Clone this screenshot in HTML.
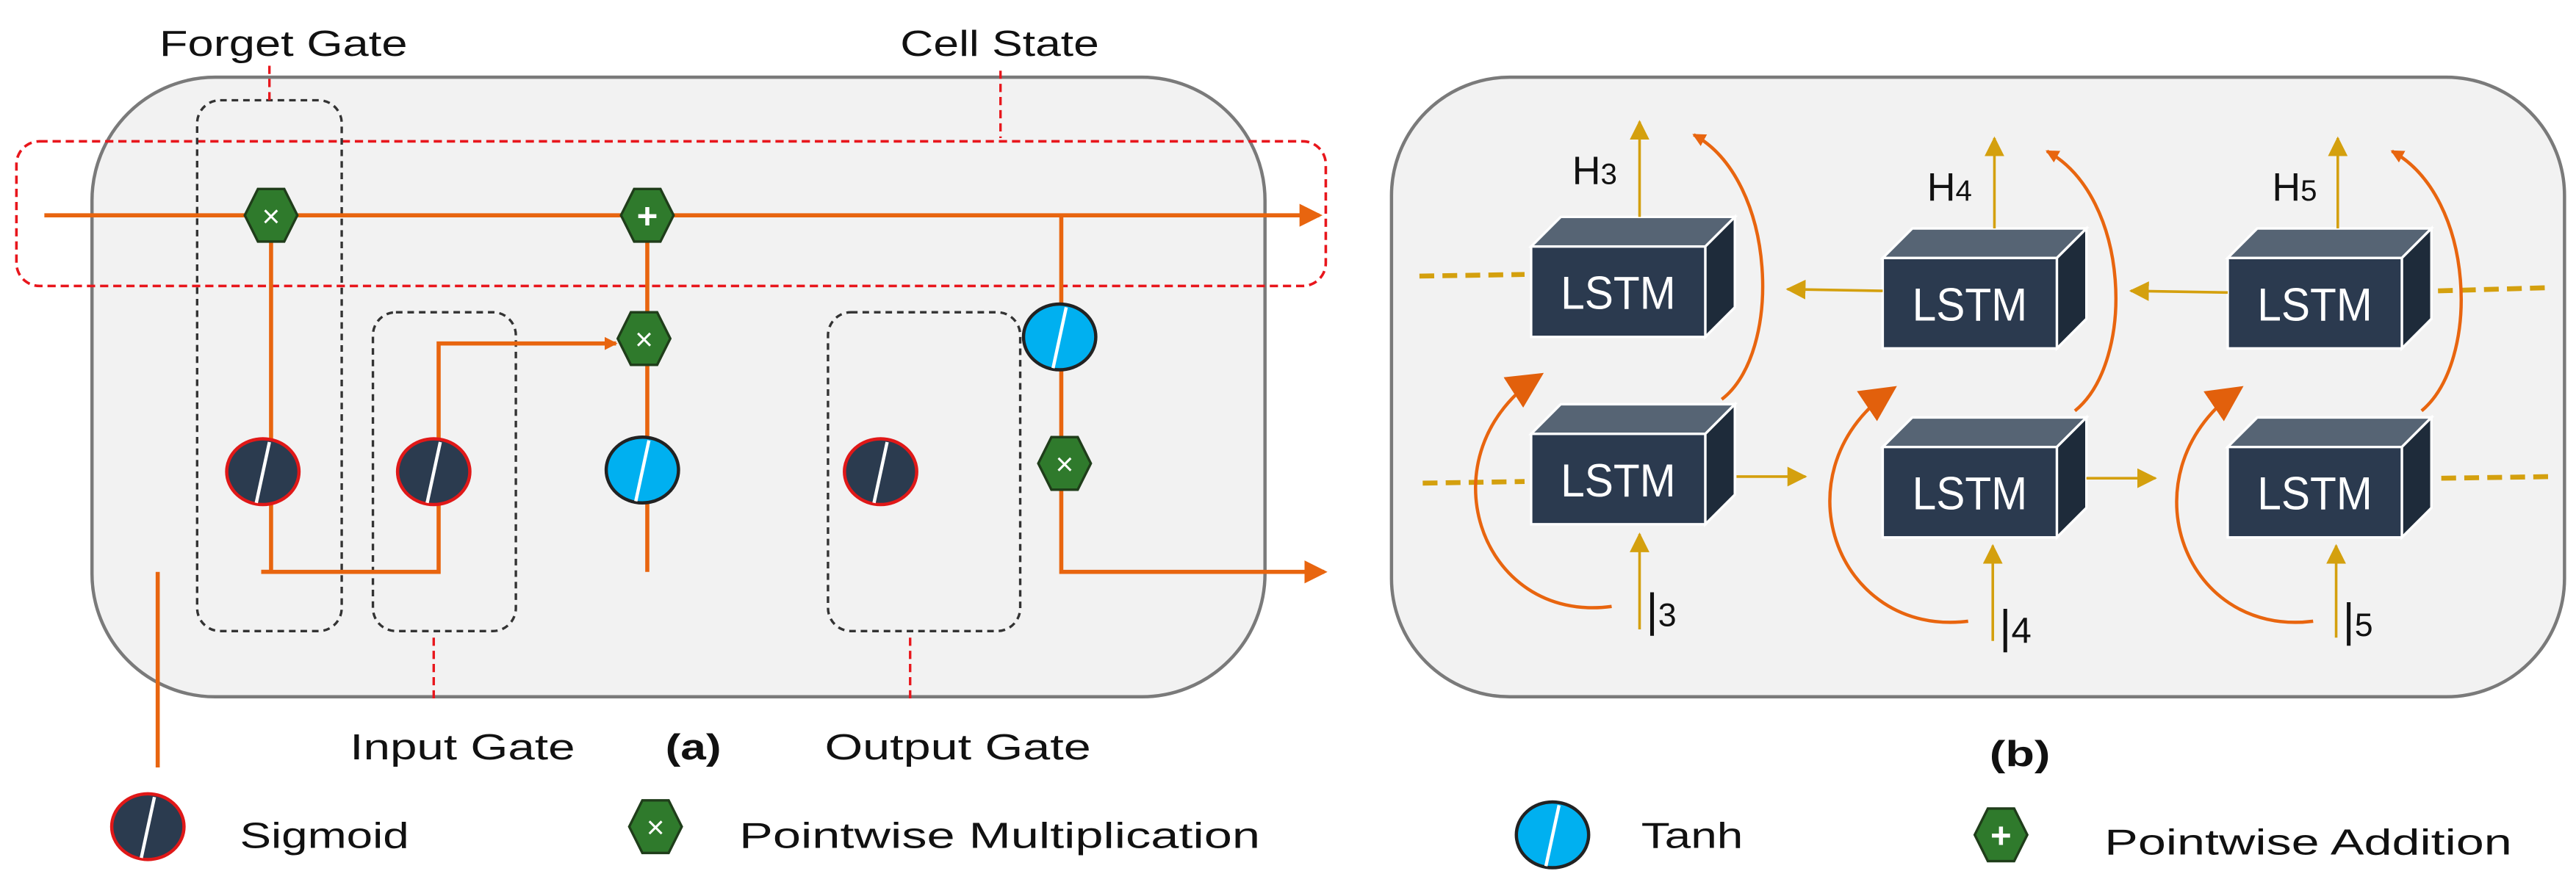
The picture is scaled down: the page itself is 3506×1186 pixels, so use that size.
<!DOCTYPE html>
<html><head><meta charset="utf-8"><style>html,body{margin:0;padding:0;background:#fff}svg{display:block}</style></head>
<body>
<svg width="3506" height="1186" viewBox="0 0 1568 530" preserveAspectRatio="none" xmlns="http://www.w3.org/2000/svg" font-family="'Liberation Sans', sans-serif">
<defs>
<marker id="ao" markerWidth="8" markerHeight="8" refX="7" refY="4" orient="auto" markerUnits="userSpaceOnUse"><path d="M0,0 L8,4 L0,8 Z" fill="#e8650f"/></marker>
<marker id="ao2" markerWidth="14" markerHeight="14" refX="12" refY="7" orient="auto" markerUnits="userSpaceOnUse"><path d="M0,0 L14,7 L0,14 Z" fill="#e8650f"/></marker>
<marker id="aob" markerWidth="22" markerHeight="22" refX="20" refY="11" orient="auto" markerUnits="userSpaceOnUse"><path d="M0,0 L22,11 L0,22 Z" fill="#e2600c"/></marker>
<marker id="ag" markerWidth="12" markerHeight="12" refX="11" refY="6" orient="auto" markerUnits="userSpaceOnUse"><path d="M0,0 L12,6 L0,12 Z" fill="#d4a00e"/></marker>
<g id="hex"><polygon points="-16,0 -8,-16 8,-16 16,0 8,16 -8,16" fill="#2f7a2c" stroke="#1f3d1a" stroke-width="1.5"/></g>
<g id="sig"><ellipse cx="0" cy="0" rx="22" ry="20" fill="#2b3b4f" stroke="#e01818" stroke-width="2"/><line x1="4" y1="-18" x2="-4" y2="19" stroke="#fff" stroke-width="2"/></g>
<g id="tanh"><ellipse cx="0" cy="0" rx="22" ry="20" fill="#00b0f0" stroke="#222" stroke-width="2"/><line x1="4" y1="-18" x2="-4" y2="19" stroke="#fff" stroke-width="2"/></g>
<g id="lstm">
<polygon points="0,0 18,-18 124,-18 106,0" fill="#566474" stroke="#fff" stroke-width="1.5"/>
<polygon points="106,0 124,-18 124,37 106,55" fill="#1e2b3a" stroke="#fff" stroke-width="1.5"/>
<rect x="0" y="0" width="106" height="55" fill="#2b3a4f" stroke="#fff" stroke-width="1.5"/>
<text x="18" y="38" font-size="28" fill="#fff" textLength="70" lengthAdjust="spacingAndGlyphs">LSTM</text>
</g>
</defs>

<!-- LEFT PANEL -->
<rect x="56" y="47" width="714" height="377" rx="75" fill="#f2f2f2" stroke="#7a7a7a" stroke-width="2"/>
<rect x="10" y="86" width="797" height="88" rx="14" fill="none" stroke="#e8161c" stroke-width="1.6" stroke-dasharray="5,3"/>
<rect x="120" y="61" width="88" height="323" rx="14" fill="none" stroke="#333" stroke-width="1.5" stroke-dasharray="4,3"/>
<rect x="227" y="190" width="87" height="194" rx="14" fill="none" stroke="#333" stroke-width="1.5" stroke-dasharray="4,3"/>
<rect x="504" y="190" width="117" height="194" rx="14" fill="none" stroke="#333" stroke-width="1.5" stroke-dasharray="4,3"/>
<g stroke="#e8161c" stroke-width="1.5" stroke-dasharray="5,3">
<line x1="164" y1="40" x2="164" y2="63"/><line x1="609" y1="43" x2="609" y2="84"/>
<line x1="264" y1="388" x2="264" y2="428"/><line x1="554" y1="388" x2="554" y2="428"/>
</g>
<g stroke="#e8650f" stroke-width="2.5" fill="none">
<line x1="27" y1="131" x2="803" y2="131" marker-end="url(#ao2)"/>
<polyline points="165,131 165,348 159,348"/>
<polyline points="159,348 267,348 267,209 375,209" marker-end="url(#ao)"/>
<line x1="394" y1="131" x2="394" y2="348"/>
<polyline points="646,131 646,348 806,348" marker-end="url(#ao2)"/>
<line x1="96" y1="348" x2="96" y2="467"/>
</g>
<use href="#hex" x="165" y="131"/><text x="165" y="138" font-size="19" fill="#fff" text-anchor="middle">×</text>
<use href="#hex" x="394" y="131"/><text x="394" y="139" font-size="22" font-weight="bold" fill="#fff" text-anchor="middle">+</text>
<use href="#hex" x="392" y="206"/><text x="392" y="213" font-size="19" fill="#fff" text-anchor="middle">×</text>
<use href="#hex" x="648" y="282"/><text x="648" y="289" font-size="19" fill="#fff" text-anchor="middle">×</text>
<use href="#sig" x="160" y="287"/><use href="#sig" x="264" y="287"/><use href="#sig" x="536" y="287"/>
<use href="#tanh" x="391" y="286"/><use href="#tanh" x="645" y="205"/>
<g font-size="22" fill="#111">
<text x="97" y="34" textLength="151" lengthAdjust="spacingAndGlyphs">Forget Gate</text>
<text x="548" y="34" textLength="121" lengthAdjust="spacingAndGlyphs">Cell State</text>
<text x="213" y="462" textLength="137" lengthAdjust="spacingAndGlyphs">Input Gate</text>
<text x="405" y="462" font-weight="bold" textLength="34" lengthAdjust="spacingAndGlyphs">(a)</text>
<text x="502" y="462" textLength="162" lengthAdjust="spacingAndGlyphs">Output Gate</text>
<text x="146" y="516" textLength="103" lengthAdjust="spacingAndGlyphs">Sigmoid</text>
<text x="450" y="516" textLength="317" lengthAdjust="spacingAndGlyphs">Pointwise Multiplication</text>
<text x="999" y="516" textLength="62" lengthAdjust="spacingAndGlyphs">Tanh</text>
<text x="1281" y="520" textLength="248" lengthAdjust="spacingAndGlyphs">Pointwise Addition</text>
<text x="1211" y="466" font-weight="bold" textLength="37" lengthAdjust="spacingAndGlyphs">(b)</text>
</g>
<use href="#sig" x="90" y="503"/>
<use href="#hex" x="399" y="503"/><text x="399" y="510" font-size="19" fill="#fff" text-anchor="middle">×</text>
<use href="#tanh" x="945" y="508"/>
<use href="#hex" x="1218" y="508"/><text x="1218" y="516" font-size="22" font-weight="bold" fill="#fff" text-anchor="middle">+</text>

<!-- RIGHT PANEL -->
<rect x="847" y="47" width="714" height="377" rx="72" fill="#f2f2f2" stroke="#7a7a7a" stroke-width="2"/>
<g stroke="#d4a00e" stroke-width="3" stroke-dasharray="9,5">
<line x1="864" y1="168" x2="928" y2="167"/><line x1="866" y1="294" x2="928" y2="293"/>
<line x1="1484" y1="177" x2="1553" y2="175"/><line x1="1486" y1="291" x2="1554" y2="290"/>
</g>
<g stroke="#e8650f" stroke-width="2" fill="none">
<path d="M1048,243 C1085,215 1082,110 1031,82" marker-end="url(#ao)"/>
<path d="M1263,250 C1300,220 1297,120 1246,92" marker-end="url(#ao)"/>
<path d="M1474,250 C1510,220 1507,120 1456,92" marker-end="url(#ao)"/>
<path d="M981,369 C900,380 865,275 938,228" marker-end="url(#aob)"/>
<path d="M1198,378 C1117,388 1080,285 1153,236" marker-end="url(#aob)"/>
<path d="M1408,378 C1327,388 1292,285 1364,236" marker-end="url(#aob)"/>
</g>
<use href="#lstm" x="932" y="150"/>
<use href="#lstm" x="1146" y="157"/>
<use href="#lstm" x="1356" y="157"/>
<use href="#lstm" x="932" y="264"/>
<use href="#lstm" x="1146" y="272"/>
<use href="#lstm" x="1356" y="272"/>
<g stroke="#d4a00e" stroke-width="1.6" fill="none">
<line x1="998" y1="132" x2="998" y2="74" marker-end="url(#ag)"/>
<line x1="1214" y1="139" x2="1214" y2="84" marker-end="url(#ag)"/>
<line x1="1423" y1="139" x2="1423" y2="84" marker-end="url(#ag)"/>
<line x1="1146" y1="177" x2="1088" y2="176" marker-end="url(#ag)"/>
<line x1="1356" y1="178" x2="1297" y2="177" marker-end="url(#ag)"/>
<line x1="1057" y1="290" x2="1099" y2="290" marker-end="url(#ag)"/>
<line x1="1270" y1="291" x2="1312" y2="291" marker-end="url(#ag)"/>
<line x1="998" y1="383" x2="998" y2="325" marker-end="url(#ag)"/>
<line x1="1213" y1="390" x2="1213" y2="332" marker-end="url(#ag)"/>
<line x1="1422" y1="388" x2="1422" y2="332" marker-end="url(#ag)"/>
</g>
<g font-size="24" fill="#111">
<text x="957" y="112">H<tspan font-size="18">3</tspan></text>
<text x="1173" y="122">H<tspan font-size="18">4</tspan></text>
<text x="1383" y="122">H<tspan font-size="18">5</tspan></text>
<text x="1002" y="381" font-size="28">|<tspan font-size="20">3</tspan></text>
<text x="1217" y="391" font-size="28">|<tspan font-size="22">4</tspan></text>
<text x="1426" y="387" font-size="28">|<tspan font-size="20">5</tspan></text>
</g>
</svg>
</body></html>
